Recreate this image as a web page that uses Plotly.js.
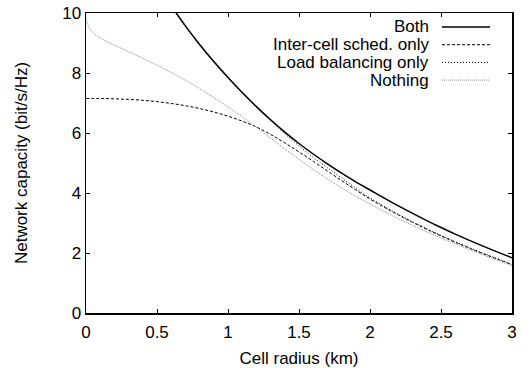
<!DOCTYPE html>
<html>
<head>
<meta charset="utf-8">
<script src="https://cdn.plot.ly/plotly-3.0.1.min.js"></script>
<style>html,body{margin:0;padding:0;background:#fff;}#chart{width:530px;height:368px;}</style>
</head>
<body>
<div id="chart"></div>
<script>
// Series names
const seriesNames = ["Both", "Inter-cell sched. only", "Load balancing only", "Nothing"];

// Both (solid)
const bothR = [0.60, 0.70, 0.80, 0.90, 1.00, 1.10, 1.20, 1.30, 1.40, 1.50, 1.60, 1.70, 1.80, 1.90, 2.00, 2.20, 2.40, 2.50, 2.60, 2.80, 3.00];
const bothC = [10.24, 9.57, 8.95, 8.38, 7.85, 7.35, 6.88, 6.44, 6.03, 5.65, 5.30, 4.97, 4.66, 4.37, 4.10, 3.57, 3.08, 2.85, 2.63, 2.22, 1.84];

// Inter-cell scheduling only (dashed)
const interR = [0, 0.1, 0.2, 0.3, 0.4, 0.5, 0.6, 0.7, 0.8, 0.9, 1.0, 1.1, 1.2, 1.3, 1.4, 1.5, 1.6, 1.7, 1.8, 1.9, 2.0, 2.1, 2.2, 2.3, 2.4, 2.5, 2.6, 2.7, 2.8, 2.9, 3.0];
const interC = [7.15, 7.15, 7.14, 7.12, 7.09, 7.045, 6.985, 6.91, 6.815, 6.70, 6.56, 6.395, 6.20, 5.95, 5.67, 5.37, 5.055, 4.735, 4.415, 4.10, 3.80, 3.525, 3.265, 3.02, 2.79, 2.57, 2.36, 2.16, 1.97, 1.79, 1.61];

// Load balancing only (dotted)
const lbR = [0.60, 0.70, 0.80, 0.90, 1.00, 1.10, 1.20, 1.30, 1.40, 1.50, 1.60, 1.70, 1.80, 1.90, 2.00, 2.20, 2.40, 2.50, 2.60, 2.80, 3.00];
const lbC = [10.22, 9.55, 8.93, 8.36, 7.83, 7.33, 6.86, 6.41, 5.98, 5.57, 5.19, 4.84, 4.50, 4.16, 3.84, 3.29, 2.81, 2.59, 2.38, 1.99, 1.63];

// Nothing (gray)
const nothR = [0, 0.01, 0.03, 0.06, 0.1, 0.2, 0.3, 0.4, 0.5, 0.6, 0.7, 0.8, 0.9, 1.0, 1.1, 1.2, 1.3, 1.4, 1.5, 1.6, 1.7, 1.8, 1.9, 2.0, 2.1, 2.2, 2.3, 2.4, 2.5, 2.6, 2.7, 2.8, 2.9, 3.0];
const nothC = [9.85, 9.65, 9.45, 9.30, 9.17, 8.93, 8.71, 8.49, 8.26, 8.02, 7.76, 7.48, 7.18, 6.87, 6.54, 6.19, 5.83, 5.47, 5.12, 4.79, 4.47, 4.17, 3.89, 3.63, 3.38, 3.145, 2.92, 2.705, 2.50, 2.305, 2.115, 1.93, 1.75, 1.58];

// Tick labels
const xTicks = [0, 0.5, 1, 1.5, 2, 2.5, 3];
const xTickText = ["0", "0.5", "1", "1.5", "2", "2.5", "3"];
const yTicks = [0, 2, 4, 6, 8, 10];
const yTickText = ["0", "2", "4", "6", "8", "10"];

const styles = [
  {color: "#000", width: 1.5, dash: "solid"},
  {color: "#000", width: 1, dash: "3px,2px"},
  {color: "#000", width: 1, dash: "1px,2px"},
  {color: "#888", width: 1, dash: "1px,1px"}
];

const xs = [bothR, interR, lbR, nothR];
const ys = [bothC, interC, lbC, nothC];

const traces = seriesNames.map((n, i) => ({
  type: "scatter", mode: "lines", name: n,
  x: xs[i], y: ys[i],
  line: {color: styles[i].color, width: styles[i].width, dash: styles[i].dash, shape: "spline", smoothing: 1},
  showlegend: false, hoverinfo: "skip"
}));

const FONT = "Liberation Sans, Arial, Helvetica, sans-serif";
const L = 86, R = 512, T = 13, B = 313;
const rowY = [27, 44.7, 62.4, 80.1];
const annotations = [];
const shapes = [];
seriesNames.forEach((n, i) => {
  const py = (B - rowY[i]) / (B - T);
  annotations.push({
    xref: "paper", yref: "paper", x: (431 - L) / (R - L), y: py,
    xanchor: "right", yanchor: "middle", text: n, showarrow: false,
    font: {family: FONT, size: 17, color: "#000"}
  });
  shapes.push({
    type: "line", xref: "paper", yref: "paper",
    x0: (442 - L) / (R - L), x1: (490 - L) / (R - L), y0: py, y1: py,
    line: {color: styles[i].color, width: styles[i].width, dash: styles[i].dash}
  });
});

const layout = {
  width: 530, height: 368,
  margin: {l: L, r: 530 - R, t: T, b: 368 - B},
  paper_bgcolor: "#fff", plot_bgcolor: "#fff",
  font: {family: FONT, size: 17, color: "#000"},
  xaxis: {
    range: [0, 3], tickvals: xTicks, ticktext: xTickText,
    ticks: "inside", ticklen: 4, tickcolor: "#000", tickwidth: 1,
    showline: true, linecolor: "#000", linewidth: 1.5, mirror: "allticks",
    showgrid: false, zeroline: false, ticklabelstandoff: 3,
    title: {text: "Cell radius (km)", font: {family: FONT, size: 17}, standoff: 12},
    tickfont: {family: FONT, size: 17}
  },
  yaxis: {
    range: [0, 10], tickvals: yTicks, ticktext: yTickText,
    ticks: "inside", ticklen: 4, tickcolor: "#000", tickwidth: 1,
    showline: true, linecolor: "#000", linewidth: 1.5, mirror: "allticks",
    showgrid: false, zeroline: false,
    title: {text: "Network capacity (bit/s/Hz)", font: {family: FONT, size: 17}, standoff: 30},
    tickfont: {family: FONT, size: 17}
  },
  showlegend: false,
  annotations: annotations,
  shapes: shapes
};

Plotly.newPlot("chart", traces, layout, {staticPlot: true, displayModeBar: false});
</script>
</body>
</html>
